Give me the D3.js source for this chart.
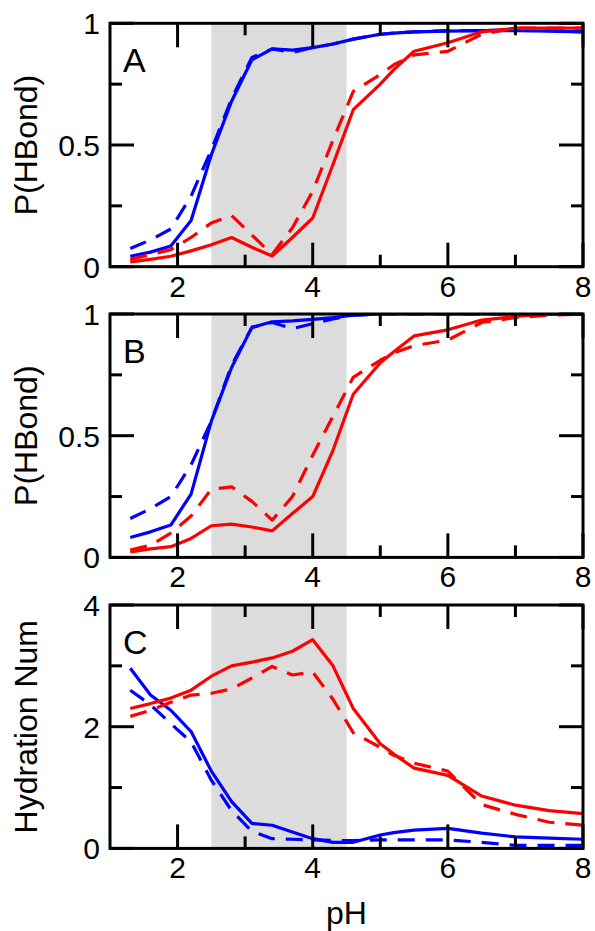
<!DOCTYPE html>
<html>
<head>
<meta charset="utf-8">
<script src="https://cdn.jsdelivr.net/npm/d3@7"></script>
<style>
  html, body { margin: 0; padding: 0; background: #fff; }
  svg { display: block; font-family: "Liberation Sans", Arial, Helvetica, sans-serif; }
</style>
</head>
<body>
<svg id="chart" width="595" height="931"></svg>
<script>
// pH values of the simulation runs
const pH = [1.3, 1.6, 1.9, 2.2, 2.5, 2.8, 3.1, 3.4, 3.7, 4.0, 4.3, 4.6, 5.0, 5.2, 5.5, 6.0, 6.5, 7.0, 7.5, 8.0];

// Panel A: P(HBond)
const aBlueSolid = [0.043, 0.06, 0.085, 0.19, 0.46, 0.68, 0.85, 0.895, 0.89, 0.90, 0.915, 0.935, 0.955, 0.96, 0.965, 0.968, 0.97, 0.97, 0.968, 0.965];
const aBlueDash  = [0.075, 0.11, 0.155, 0.29, 0.48, 0.69, 0.86, 0.895, 0.88, 0.90, 0.915, 0.935, 0.955, 0.96, 0.965, 0.97, 0.97, 0.975, 0.97, 0.965];
const aRedSolid  = [0.02, 0.03, 0.043, 0.065, 0.09, 0.12, 0.08, 0.044, 0.12, 0.20, 0.42, 0.645, 0.75, 0.81, 0.885, 0.92, 0.965, 0.98, 0.98, 0.98];
const aRedDash   = [0.03, 0.05, 0.07, 0.12, 0.18, 0.21, 0.13, 0.05, 0.16, 0.31, 0.52, 0.72, 0.79, 0.83, 0.87, 0.885, 0.955, 0.98, 0.98, 0.98];

// Panel B: P(HBond)
const bBlueSolid = [0.082, 0.105, 0.133, 0.26, 0.56, 0.78, 0.945, 0.968, 0.972, 0.978, 0.985, 0.995, 1, 1, 1, 1, 1, 1, 1, 1];
const bBlueDash  = [0.16, 0.20, 0.25, 0.38, 0.56, 0.79, 0.945, 0.965, 0.94, 0.96, 0.98, 0.995, 1, 1, 1, 1, 1, 1, 1, 1];
const bRedSolid  = [0.023, 0.035, 0.044, 0.078, 0.13, 0.137, 0.125, 0.109, 0.18, 0.25, 0.44, 0.67, 0.80, 0.845, 0.91, 0.935, 0.975, 0.99, 1, 1];
const bRedDash   = [0.03, 0.05, 0.10, 0.17, 0.28, 0.29, 0.23, 0.153, 0.25, 0.42, 0.58, 0.74, 0.81, 0.84, 0.87, 0.893, 0.965, 0.985, 0.995, 1];

// Panel C: hydration number
const cBlueSolid = [2.96, 2.52, 2.27, 1.92, 1.27, 0.77, 0.41, 0.38, 0.27, 0.16, 0.10, 0.10, 0.22, 0.26, 0.30, 0.33, 0.25, 0.19, 0.17, 0.15];
const cBlueDash  = [2.60, 2.36, 2.05, 1.75, 1.12, 0.62, 0.28, 0.16, 0.15, 0.14, 0.13, 0.13, 0.14, 0.14, 0.14, 0.14, 0.10, 0.05, 0.05, 0.05];
const cRedSolid  = [2.30, 2.38, 2.47, 2.60, 2.83, 3.00, 3.06, 3.13, 3.24, 3.43, 3.00, 2.30, 1.72, 1.55, 1.32, 1.20, 0.86, 0.71, 0.62, 0.57];
const cRedDash   = [2.17, 2.27, 2.40, 2.52, 2.55, 2.62, 2.80, 2.99, 2.85, 2.90, 2.45, 1.90, 1.66, 1.53, 1.40, 1.27, 0.72, 0.56, 0.43, 0.38];

// Acidic window shaded in every panel
const shadeRange = [2.5, 4.5];

// Axis ticks and labels
const xMajor = [2, 4, 6, 8];
const xMinor = [3, 5, 7];
const pMajor = [0, 0.5, 1];
const pMinor = [0.25, 0.75];
const hMajor = [0, 2, 4];
const hMinor = [1, 3];

const panels = [
  { letter: "A", title: "P(HBond)", domain: [0, 1], major: pMajor, minor: pMinor,
    series: [[aBlueSolid, "blue", false], [aBlueDash, "blue", true], [aRedSolid, "red", false], [aRedDash, "red", true]] },
  { letter: "B", title: "P(HBond)", domain: [0, 1], major: pMajor, minor: pMinor,
    series: [[bBlueSolid, "blue", false], [bBlueDash, "blue", true], [bRedSolid, "red", false], [bRedDash, "red", true]] },
  { letter: "C", title: "Hydration Num", domain: [0, 4], major: hMajor, minor: hMinor,
    series: [[cBlueSolid, "blue", false], [cBlueDash, "blue", true], [cRedSolid, "red", false], [cRedDash, "red", true]] }
];

const colors = { blue: "#0000ff", red: "#ff0000" };

const svg = d3.select("#chart");
const left = 110, right = 583;
const panelH = 243.4, panelTops = [23.3, 314, 605];
const majorLen = 24, minorLen = 12;
const tickFont = 30, titleFont = 32, letterFont = 34;

const x = d3.scaleLinear().domain([1, 8]).range([left, right]);
const fmt = d => (d === 0.5 ? "0.5" : d3.format("d")(d));

panels.forEach((p, i) => {
  const top = panelTops[i], bottom = top + panelH;
  const y = d3.scaleLinear().domain(p.domain).range([bottom, top]);
  const g = svg.append("g");

  const clipId = "clip" + i;
  svg.append("clipPath").attr("id", clipId)
    .append("rect").attr("x", left).attr("y", top).attr("width", right - left).attr("height", panelH);

  // shaded pH window
  g.append("rect")
    .attr("x", x(shadeRange[0])).attr("y", top)
    .attr("width", x(shadeRange[1]) - x(shadeRange[0])).attr("height", panelH)
    .attr("fill", "#dcdcdc");

  // data lines: blue first, red on top
  const line = d3.line().x((d, k) => x(pH[k])).y(d => y(d));
  const lines = g.append("g").attr("clip-path", `url(#${clipId})`);
  p.series.forEach(([vals, col, dashed]) => {
    lines.append("path")
      .datum(vals)
      .attr("d", line)
      .attr("fill", "none")
      .attr("stroke", colors[col])
      .attr("stroke-width", 3.2)
      .attr("stroke-linejoin", "round")
      .attr("stroke-dasharray", dashed ? "17,11" : null);
  });

  // inward ticks on all four sides
  const tickG = g.append("g").attr("stroke", "#000").attr("stroke-width", 3);
  const xTicks = xMajor.map(v => [v, majorLen]).concat(xMinor.map(v => [v, minorLen]));
  xTicks.forEach(([v, len]) => {
    tickG.append("line").attr("x1", x(v)).attr("x2", x(v)).attr("y1", bottom).attr("y2", bottom - len);
    tickG.append("line").attr("x1", x(v)).attr("x2", x(v)).attr("y1", top).attr("y2", top + len);
  });
  const yTicks = p.major.map(v => [v, majorLen]).concat(p.minor.map(v => [v, minorLen]));
  yTicks.forEach(([v, len]) => {
    tickG.append("line").attr("x1", left).attr("x2", left + len).attr("y1", y(v)).attr("y2", y(v));
    tickG.append("line").attr("x1", right).attr("x2", right - len).attr("y1", y(v)).attr("y2", y(v));
  });

  // frame
  g.append("rect")
    .attr("x", left).attr("y", top).attr("width", right - left).attr("height", panelH)
    .attr("fill", "none").attr("stroke", "#000").attr("stroke-width", 3);

  // tick labels
  g.append("g").selectAll("text").data(xMajor).join("text")
    .attr("x", d => x(d)).attr("y", bottom + 30)
    .attr("text-anchor", "middle").attr("font-size", tickFont)
    .text(fmt);
  g.append("g").selectAll("text").data(p.major).join("text")
    .attr("x", left - 10).attr("y", d => y(d))
    .attr("dy", "0.36em")
    .attr("text-anchor", "end").attr("font-size", tickFont)
    .text(fmt);

  // axis title
  g.append("text")
    .attr("transform", `translate(37,${(top + bottom) / 2}) rotate(-90)`)
    .attr("text-anchor", "middle").attr("font-size", titleFont)
    .text(p.title);

  // panel letter
  g.append("text")
    .attr("x", left + 13).attr("y", top + 48.5)
    .attr("font-size", letterFont)
    .text(p.letter);
});

svg.append("text")
  .attr("x", (left + right) / 2).attr("y", 924)
  .attr("text-anchor", "middle").attr("font-size", titleFont)
  .text("pH");
</script>
</body>
</html>
